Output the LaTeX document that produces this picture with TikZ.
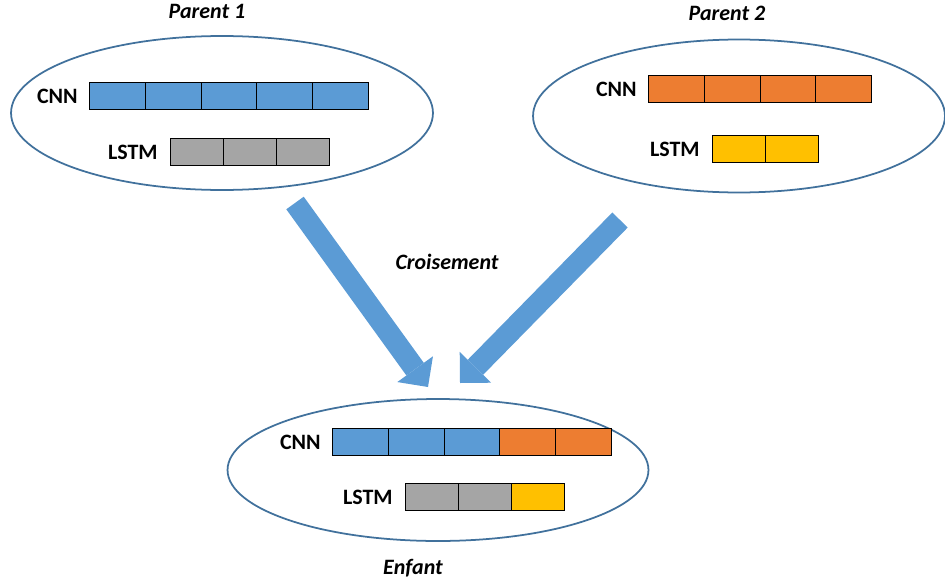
\documentclass[tikz,border=0pt]{standalone}
\usepackage{fontspec}
\setmainfont{Carlito}
\usetikzlibrary{positioning,shapes.geometric,arrows.meta}
\definecolor{cnnblue}{HTML}{5B9BD5}
\definecolor{cnnorange}{HTML}{ED7D31}
\definecolor{lstmgray}{HTML}{A5A5A5}
\definecolor{lstmyellow}{HTML}{FFC000}
\definecolor{edgeblue}{HTML}{41719C}
\begin{document}
\begin{tikzpicture}[
      x=0.02cm, y=-0.02cm,
      ovale/.style={ellipse, draw=edgeblue, line width=1pt, inner sep=0pt},
      cellcnn/.style={rectangle, draw=black, line width=0.6pt,
        minimum width=1.116cm, minimum height=0.54cm, inner sep=0pt,
        anchor=north west},
      celllstm/.style={cellcnn, minimum width=1.06cm},
      etiq/.style={font=\fontsize{12.5}{14}\selectfont\bfseries, inner sep=0pt},
      titre/.style={font=\fontsize{12.5}{14}\selectfont\bfseries\itshape, inner sep=0pt},
      fleche/.style={draw=cnnblue, line width=0.43cm,
        -{Triangle[length=0.44cm, width=0.88cm, line width=0pt]}}
    ]
    \useasboundingbox (0,0) rectangle (945,581);
    % parents et enfant
    \node[ovale, minimum width=8.44cm, minimum height=3.08cm] (par1) at (222,113) {};
    \node[ovale, minimum width=8.24cm, minimum height=3.06cm] (par2) at (739,116) {};
    \node[ovale, minimum width=8.42cm, minimum height=2.84cm] (enf) at (438,470) {};
    % parent 1
    \foreach \i in {0,...,4}
      \node[cellcnn, fill=cnnblue] (p1c\i) at ({89+55.8*\i},82) {};
    \foreach \i in {0,...,2}
      \node[celllstm, fill=lstmgray] (p1l\i) at ({170+53*\i},138) {};
    \node[etiq, left=0.22cm of p1c0] (p1cnn) {CNN};
    \node[etiq, left=0.24cm of p1l0] (p1lstm) {LSTM};
    % parent 2
    \foreach \i in {0,...,3}
      \node[cellcnn, fill=cnnorange] (p2c\i) at ({648+55.8*\i},75) {};
    \foreach \i in {0,...,1}
      \node[celllstm, fill=lstmyellow] (p2l\i) at ({712+53*\i},135) {};
    \node[etiq, left=0.22cm of p2c0] (p2cnn) {CNN};
    \node[etiq, left=0.24cm of p2l0] (p2lstm) {LSTM};
    % enfant
    \foreach \i/\c in {0/cnnblue,1/cnnblue,2/cnnblue,3/cnnorange,4/cnnorange}
      \node[cellcnn, fill=\c] (enc\i) at ({332+55.8*\i},428) {};
    \foreach \i/\c in {0/lstmgray,1/lstmgray,2/lstmyellow}
      \node[celllstm, fill=\c] (enl\i) at ({405+53*\i},483) {};
    \node[etiq, left=0.22cm of enc0] (encnn) {CNN};
    \node[etiq, left=0.24cm of enl0] (enlstm) {LSTM};
    % titres
    \node[titre] (t1) at (207,11) {Parent 1};
    \node[titre] (t2) at (727,13) {Parent 2};
    \node[titre] (tc) at (447,262) {Croisement};
    \node[titre] (te) at (413,568) {Enfant};
    % croisement
    \coordinate (f1d) at (295,203);
    \coordinate (f1a) at (428,387);
    \coordinate (f2d) at (620,220);
    \coordinate (f2a) at (460,383);
    \draw[fleche] (f1d) -- (f1a);
    \draw[fleche] (f2d) -- (f2a);
  \end{tikzpicture}
\end{document}
